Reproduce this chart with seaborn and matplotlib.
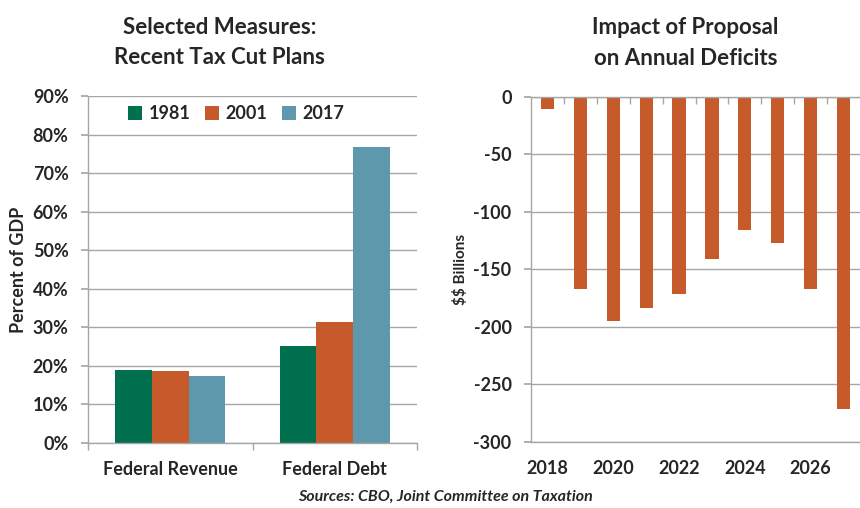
import matplotlib
matplotlib.use("Agg")
import matplotlib.pyplot as plt
import seaborn as sns
import pandas as pd
import numpy as np
from matplotlib.ticker import FixedLocator

sns.set_theme(style="white")
plt.rcParams['font.family'] = ['Lato', 'DejaVu Sans']
plt.rcParams['text.parse_math'] = False

# ---- data ----
measures = ["Federal Revenue", "Federal Debt"]
plan_years = ["1981", "2001", "2017"]
vals_1981 = [19.0, 25.1]
vals_2001 = [18.7, 31.3]
vals_2017 = [17.3, 76.7]

deficit_years = [2018, 2019, 2020, 2021, 2022, 2023, 2024, 2025, 2026, 2027]
deficits = [-11, -167, -195, -184, -171, -141, -116, -127, -167, -271]

colors = {"1981": "#01704F", "2001": "#C65A2A", "2017": "#5E98AC"}
grid_c = "#A6A6A6"
FS = 13

rows = []
for yr, vals in zip(plan_years, [vals_1981, vals_2001, vals_2017]):
    for m, v in zip(measures, vals):
        rows.append({"measure": m, "plan": yr, "value": v})
df_left = pd.DataFrame(rows)
df_right = pd.DataFrame({"year": [str(y) for y in deficit_years], "value": deficits})

fig = plt.figure(figsize=(8.6, 5.08), dpi=100)
axL = fig.add_axes([88/860, 1-443/508, 329/860, (443-96)/508])
axR = fig.add_axes([531/860, 1-442/508, 329/860, (442-96.7)/508])

# ---- left chart ----
sns.barplot(data=df_left, x="measure", y="value", hue="plan", order=measures,
            hue_order=plan_years, palette=colors, width=0.67, ax=axL,
            saturation=1, edgecolor="none", legend=True)
axL.set_ylim(0, 90)
axL.set_xlim(-0.5, 1.5)
axL.set_yticks(np.arange(0, 91, 10))
axL.set_yticklabels([f"{int(v)}%" for v in np.arange(0, 91, 10)])
axL.yaxis.grid(True, color=grid_c, lw=1)
axL.set_axisbelow(True)
for s in ["top", "right"]:
    axL.spines[s].set_visible(False)
for s in ["left", "bottom"]:
    axL.spines[s].set_color(grid_c)
    axL.spines[s].set_linewidth(1)
axL.tick_params(axis="y", which="major", left=True, length=5, color=grid_c,
                labelsize=FS, pad=9)
axL.tick_params(axis="x", which="major", length=0, labelsize=FS, pad=13)
axL.xaxis.set_minor_locator(FixedLocator([-0.5, 0.5, 1.5]))
axL.tick_params(axis="x", which="minor", bottom=True, length=5, color=grid_c)
for lab in axL.get_xticklabels() + axL.get_yticklabels():
    lab.set_fontweight("bold")
axL.set_xlabel("")
axL.set_ylabel("Percent of GDP", fontsize=FS, fontweight="bold", labelpad=4)
axL.legend(title=None, ncol=3, loc="upper center", bbox_to_anchor=(0.45, 1.02),
           frameon=False, handlelength=0.8, handleheight=0.8, handletextpad=0.35,
           columnspacing=0.8, prop={"weight": "bold", "size": FS})
axL.set_title("Selected Measures:\nRecent Tax Cut Plans", fontsize=16,
              fontweight="bold", pad=23, x=0.40, linespacing=1.55)

# ---- right chart ----
sns.barplot(data=df_right, x="year", y="value", color=colors["2001"],
            width=0.4, ax=axR, saturation=1, edgecolor="none")
axR.set_ylim(-300, 0)
axR.set_xlim(-0.5, 9.5)
axR.set_yticks(np.arange(-300, 1, 50))
axR.set_yticklabels([str(int(v)) for v in np.arange(-300, 1, 50)])
axR.yaxis.grid(True, color=grid_c, lw=1)
axR.set_axisbelow(True)
axR.spines["right"].set_visible(False)
for s in ["left", "top", "bottom"]:
    axR.spines[s].set_color(grid_c)
    axR.spines[s].set_linewidth(1)
axR.set_xticks([0, 2, 4, 6, 8])
axR.set_xticklabels([str(deficit_years[i]) for i in [0, 2, 4, 6, 8]])
axR.tick_params(axis="x", which="major", length=0, labelsize=FS, pad=13)
axR.xaxis.set_minor_locator(FixedLocator(np.arange(0.5, 9.5, 1.0)))
axR.tick_params(axis="x", which="minor", bottom=False, top=True, direction="in",
                length=5, color=grid_c)
axR.tick_params(axis="y", which="major", left=True, length=5, color=grid_c,
                labelsize=FS, pad=9)
for lab in axR.get_xticklabels() + axR.get_yticklabels():
    lab.set_fontweight("bold")
axR.set_xlabel("")
axR.set_ylabel("$$ Billions", fontsize=11, fontweight="bold", labelpad=4)
axR.set_title("Impact of Proposal\non Annual Deficits", fontsize=16,
              fontweight="bold", pad=23, x=0.47, linespacing=1.55)

fig.text(0.518, 1-497/508, "Sources: CBO, Joint Committee on Taxation",
         ha="center", va="center", fontsize=11.5, fontweight="bold", style="italic")

fig.savefig("out.png", dpi=100)
